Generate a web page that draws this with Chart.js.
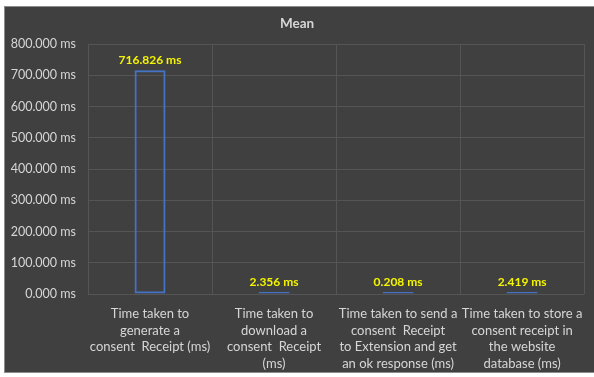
<!DOCTYPE html>
<html lang="en">
<head>
    <meta charset="UTF-8">
    <title>Mean</title>
    <script src="https://cdn.jsdelivr.net/npm/chart.js"></script>
    <style>
        html, body { margin: 0; padding: 0; background: #ffffff; }
        .chart-box {
            position: absolute;
            left: 4px;
            top: 6px;
            width: 590px;
            height: 367px;
            background: #404040;
            border-top: 1px solid #8c8c8c;
            border-left: 1px solid #8c8c8c;
            border-bottom: 1px solid #8c8c8c;
            box-sizing: border-box;
        }
        canvas { display: block; }
    </style>
</head>
<body>
    <div class="chart-box">
        <canvas id="mean-chart"></canvas>
    </div>

    <script>
        const categories = [
            ['Time taken to', 'generate a', 'consent  Receipt (ms)'],
            ['Time taken to', 'download a', 'consent  Receipt', '(ms)'],
            ['Time taken to send a', 'consent  Receipt', 'to Extension and get', 'an ok response (ms)'],
            ['Time taken to store a', 'consent receipt in', 'the website', 'database (ms)']
        ];
        const meanValues = [716.826, 2.356, 0.208, 2.419];
        const yTickMax = 800;
        const yTickStep = 100;

        const textGrey = '#d6d6d6';
        const fontFamily = 'Lato, "Open Sans", sans-serif';

        // draws the yellow value labels above each bar
        const valueLabels = {
            id: 'valueLabels',
            afterDatasetsDraw(chart) {
                const ctx = chart.ctx;
                const meta = chart.getDatasetMeta(0);
                ctx.save();
                ctx.font = 'bold 12px ' + fontFamily;
                ctx.fillStyle = '#f5f500';
                ctx.textAlign = 'center';
                ctx.textBaseline = 'bottom';
                meta.data.forEach((bar, i) => {
                    ctx.fillText(meanValues[i].toFixed(3) + ' ms', bar.x, bar.y - 4);
                });
                ctx.restore();
            }
        };

        const ctx = document.getElementById('mean-chart').getContext('2d');
        new Chart(ctx, {
            type: 'bar',
            data: {
                labels: categories,
                datasets: [{
                    label: 'Mean',
                    data: meanValues,
                    backgroundColor: 'rgba(0,0,0,0)',
                    borderColor: '#4472c4',
                    borderWidth: 2,
                    borderSkipped: false,
                    minBarLength: 2,
                    barPercentage: 0.25,
                    categoryPercentage: 1
                }]
            },
            options: {
                responsive: true,
                maintainAspectRatio: false,
                animation: false,
                layout: {
                    padding: { top: 0, right: 5, bottom: 0, left: 0 }
                },
                plugins: {
                    legend: { display: false },
                    tooltip: { enabled: false },
                    title: {
                        display: true,
                        text: 'Mean',
                        color: textGrey,
                        font: { family: fontFamily, size: 13.5, weight: 'bold' },
                        padding: { top: 9, bottom: 12 }
                    }
                },
                scales: {
                    y: {
                        min: 0,
                        max: yTickMax,
                        border: { display: false },
                        grid: { color: '#555555', drawTicks: false },
                        afterFit(scale) { scale.width = 83; },
                        ticks: {
                            stepSize: yTickStep,
                            padding: 12,
                            color: textGrey,
                            font: { family: fontFamily, size: 12.5 },
                            callback: (v) => Number(v).toFixed(3) + ' ms'
                        }
                    },
                    x: {
                        border: { display: false },
                        grid: { color: '#555555', drawTicks: false, offset: true },
                        afterFit(scale) { scale.height = 78; },
                        ticks: {
                            padding: 11,
                            maxRotation: 0,
                            autoSkip: false,
                            color: textGrey,
                            font: { family: fontFamily, size: 13, lineHeight: 1.3 }
                        }
                    }
                }
            },
            plugins: [valueLabels]
        });
    </script>
</body>
</html>
